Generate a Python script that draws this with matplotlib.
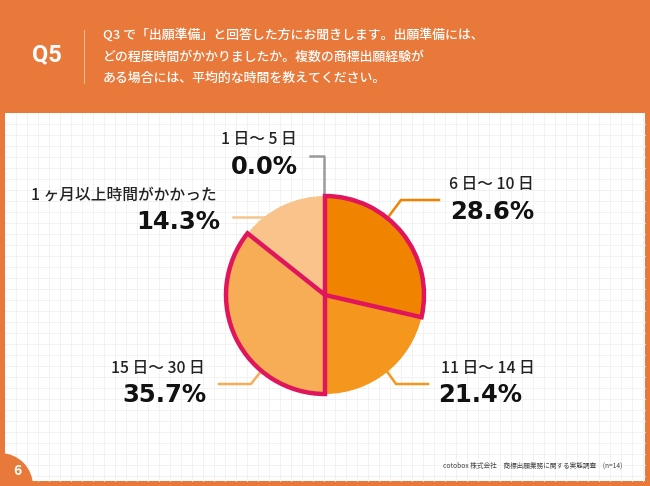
import matplotlib
matplotlib.use("Agg")
import matplotlib.pyplot as plt
from matplotlib.patches import Rectangle, Wedge

plt.rcParams['font.family'] = ['Noto Sans CJK JP', 'DejaVu Sans']

# data
categories = ["1 日～ 5 日", "6 日～ 10 日", "11 日～ 14 日", "15 日～ 30 日", "1 ヶ月以上時間がかかった"]
shares = [0.0, 28.6, 21.4, 35.7, 14.3]
slice_colors = ["#F9C48B", "#F08300", "#F6971D", "#F6AD55", "#F9C48B"]
line_colors = ["#9A9A9A", "#F08300", "#F6971D", "#F6AD55", "#F9C48B"]
highlight = [False, True, False, True, False]

question = ("Q3 で「出願準備」と回答した方にお聞きします。出願準備には、\n"
            "どの程度時間がかかりましたか。複数の商標出願経験が\n"
            "ある場合には、平均的な時間を教えてください。")
source = "cotobox 株式会社　商標出願業務に関する実態調査　(n=14)"

ORANGE = "#E8793A"
PINK = "#E0155C"
W, H = 650, 486

fig = plt.figure(figsize=(W / 100, H / 100), dpi=100, facecolor=ORANGE)
bg = fig.add_axes([0, 0, 1, 1])
bg.set_xlim(0, W)
bg.set_ylim(H, 0)
bg.axis('off')

# white panel with grid
px0, py0, px1, py1 = 5, 113, 645, 481
bg.add_patch(Rectangle((px0, py0), px1 - px0, py1 - py0, facecolor='white', edgecolor='none'))
for x in range(16, px1, 11):
    bg.plot([x, x], [py0, py1], color='#F0F0F0', lw=0.6, zorder=1)
for y in range(124, py1, 11):
    bg.plot([px0, px1], [y, y], color='#F0F0F0', lw=0.6, zorder=1)
bg.add_patch(Wedge((0, H), 33, 270, 360, facecolor=ORANGE, edgecolor='none', zorder=2))
bg.text(17, 471, "6", color='white', fontsize=10, fontweight='bold', ha='center', va='center', zorder=3)

# header
bg.text(47, 55, "Q5", color='white', fontsize=17, fontweight='bold', family=['Roboto', 'DejaVu Sans'],
        ha='center', va='center')
bg.plot([84, 84], [30, 83], color='white', alpha=0.45, lw=0.8)
bg.text(103, 57, question, color='white', fontsize=9.3, fontweight='medium', ha='left', va='center',
        linespacing=1.85)

bg.text(622, 466, source, color='#444444', fontsize=4.8, ha='right', va='center')

# pie
cx, cy, r = 325, 295, 99
pad = 1.06
pie_ax = fig.add_axes([(cx - r * pad) / W, (H - cy - r * pad) / H, 2 * r * pad / W, 2 * r * pad / H])
wedges, _ = pie_ax.pie(shares, colors=slice_colors, startangle=90, counterclock=False,
                       wedgeprops=dict(linewidth=0, edgecolor='none'))
for w, hl in zip(wedges, highlight):
    if hl:
        w.set_edgecolor(PINK)
        w.set_linewidth(3.2)
        w.set_joinstyle('miter')
        w.set_zorder(3)
pie_ax.set_xlim(-pad, pad)
pie_ax.set_ylim(-pad, pad)
pie_ax.set_aspect('equal')
pie_ax.axis('off')

# labels: (name x, name y, pct x, pct y, ha)
label_pos = [
    (259, 139, 264, 167, 'center'),
    (491, 184, 492, 212, 'center'),
    (488, 368, 480, 395, 'center'),
    (158, 368, 207, 395, 'right'),
    (31, 195, 220, 222, 'left'),
]
leaders = [
    [(310, 156), (324, 156), (324, 196)],
    [(439, 200), (401, 200), (386, 220)],
    [(428, 384), (396, 384), (386, 370)],
    [(219, 384), (251, 384), (262, 370)],
    [(233, 217), (264, 217)],
]
for name, val, pos, pts, lc in zip(categories, shares, label_pos, leaders, line_colors):
    nx, ny, qx, qy, ha = pos
    bg.text(nx, ny, name, fontsize=11.3, fontweight='medium', color='#222222',
            ha='center' if ha != 'left' else 'left', va='center')
    bg.text(qx, qy, f"{val:.1f}%", fontsize=17.5, fontweight='bold', color='#111111',
            family=['DejaVu Sans'], ha='center' if ha == 'center' else 'right', va='center')
    bg.plot([p[0] for p in pts], [p[1] for p in pts], color=lc, lw=1.8, zorder=2)

fig.savefig("out.png", dpi=100, facecolor=ORANGE)
